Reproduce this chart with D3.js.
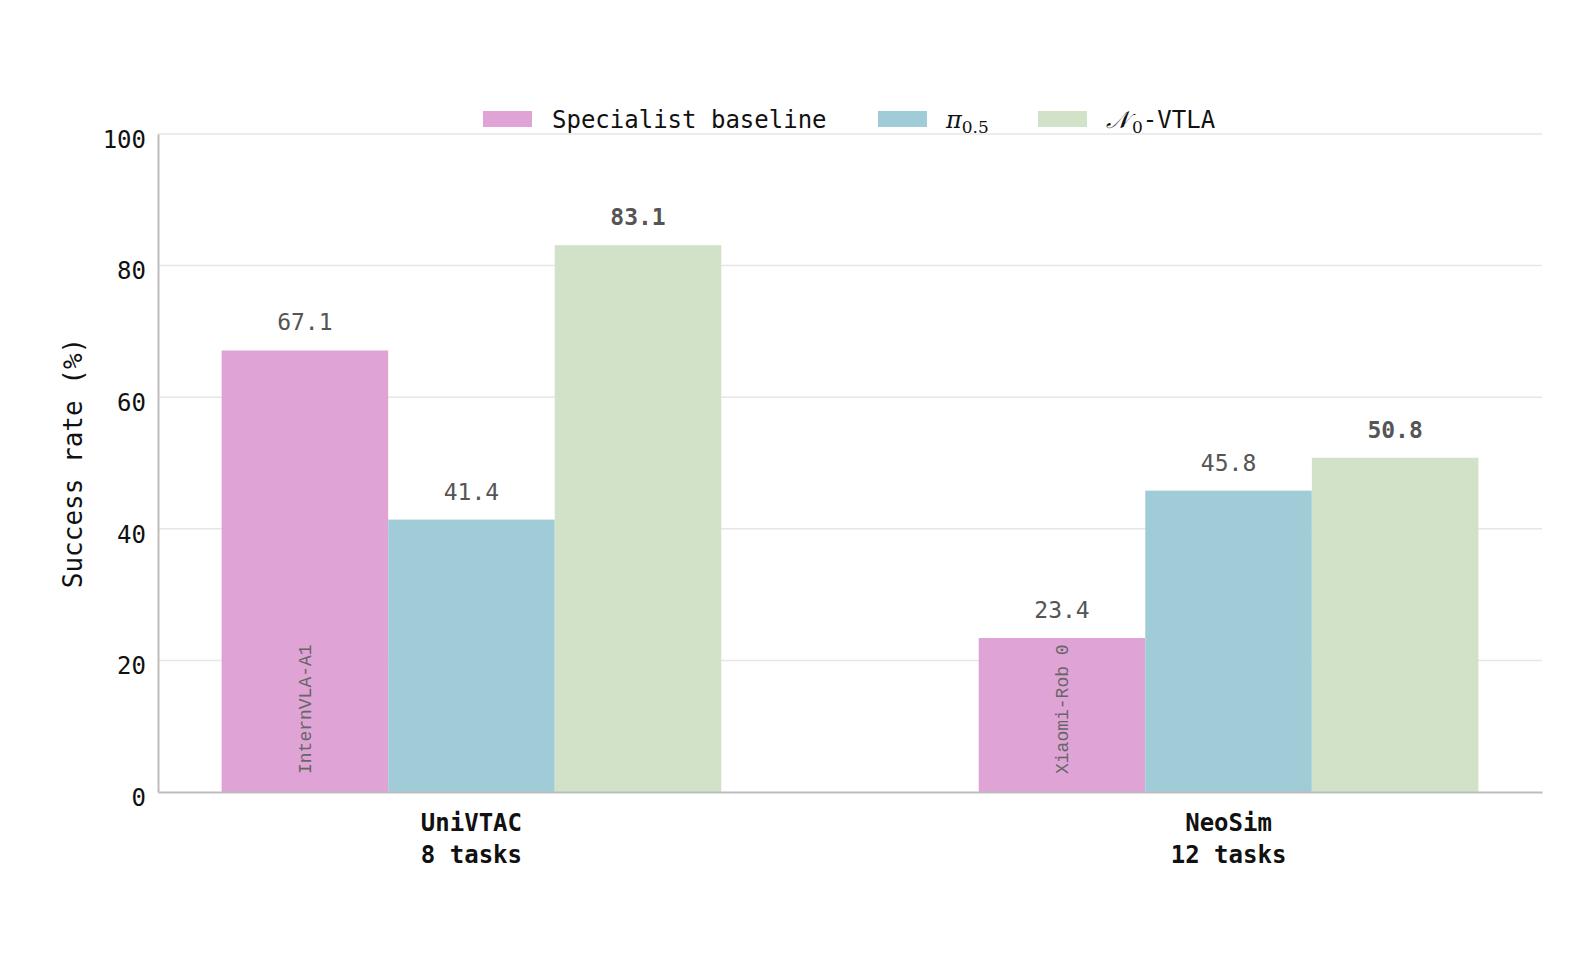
<!DOCTYPE html>
<html>
<head>
<meta charset="utf-8">
<script src="https://cdn.jsdelivr.net/npm/d3@7"></script>
<style>
  body { margin: 0; background: #fff; }
  text { font-family: "DejaVu Sans Mono", "Liberation Mono", monospace; }
</style>
</head>
<body>
<div id="chart"></div>
<script>
// Chart data
const benchmarks = ["UniVTAC", "NeoSim"];
const taskCounts = ["8 tasks", "12 tasks"];
const seriesNames = ["specialist", "pi05", "n0vtla"];
const specialistValues = [67.1, 23.4];
const pi05Values = [41.4, 45.8];
const n0vtlaValues = [83.1, 50.8];
const specialistNames = ["InternVLA-A1", "Xiaomi-Rob 0"];
const yTicks = [0, 20, 40, 60, 80, 100];

const colors = { specialist: "#dfa3d6", pi05: "#a0ccd8", n0vtla: "#d1e2c9" };
const valuesBySeries = { specialist: specialistValues, pi05: pi05Values, n0vtla: n0vtlaValues };

// Dimensions
const W = 1573, H = 956;
const margin = { top: 134, right: 31, bottom: 164, left: 158 };
const width = W - margin.left - margin.right;
const height = H - margin.top - margin.bottom;

const svg = d3.select("#chart")
    .append("svg")
    .attr("width", W)
    .attr("height", H);

const g = svg.append("g")
    .attr("transform", `translate(${margin.left},${margin.top})`);

// Scales
const x0 = d3.scaleBand()
    .domain(benchmarks)
    .range([0, width])
    .paddingInner(0.34)
    .paddingOuter(0.084);

const x1 = d3.scaleBand()
    .domain(seriesNames)
    .range([0, x0.bandwidth()]);

const y = d3.scaleLinear()
    .domain([0, 100])
    .range([height, 0]);

// Gridlines
g.append("g")
    .selectAll("line")
    .data(yTicks.slice(1))
    .enter()
    .append("line")
    .attr("x1", 0)
    .attr("x2", width)
    .attr("y1", d => y(d))
    .attr("y2", d => y(d))
    .attr("stroke", "#e6e6e6")
    .attr("stroke-width", 1.5);

// Y axis
const yAxis = g.append("g")
    .call(d3.axisLeft(y).tickValues(yTicks).tickSize(0).tickPadding(12));
yAxis.select(".domain").attr("stroke", "#bdbdbd").attr("stroke-width", 2);
yAxis.selectAll("text")
    .attr("font-size", 24)
    .attr("fill", "#111")
    .attr("dy", "0.55em")
    .style("font-family", "DejaVu Sans Mono, monospace");

// Bars
const groups = g.selectAll(".group")
    .data(benchmarks)
    .enter()
    .append("g")
    .attr("class", "group")
    .attr("transform", d => `translate(${x0(d)},0)`);

groups.selectAll("rect")
    .data((d, i) => seriesNames.map(s => ({ key: s, value: valuesBySeries[s][i] })))
    .enter()
    .append("rect")
    .attr("x", d => x1(d.key))
    .attr("width", x1.bandwidth())
    .attr("y", d => y(d.value))
    .attr("height", d => height - y(d.value))
    .attr("fill", d => colors[d.key]);

// Value labels (group max in bold)
groups.selectAll(".val")
    .data((d, i) => {
        const vals = seriesNames.map(s => valuesBySeries[s][i]);
        const mx = d3.max(vals);
        return seriesNames.map(s => ({ key: s, value: valuesBySeries[s][i], best: valuesBySeries[s][i] === mx }));
    })
    .enter()
    .append("text")
    .attr("class", "val")
    .attr("x", d => x1(d.key) + x1.bandwidth() / 2)
    .attr("y", d => y(d.value) - 20)
    .attr("text-anchor", "middle")
    .attr("font-size", 23)
    .attr("font-weight", d => d.best ? "bold" : "normal")
    .attr("fill", "#555")
    .text(d => d.value.toFixed(1));

// Specialist names inside bars
groups.append("text")
    .attr("transform", (d, i) => `translate(${x1("specialist") + x1.bandwidth() / 2 + 6},${height - 18}) rotate(-90)`)
    .attr("font-size", 18)
    .attr("fill", "#666")
    .style("font-family", "Liberation Mono, monospace")
    .text((d, i) => specialistNames[i]);

// X axis
const xAxis = g.append("g")
    .attr("transform", `translate(0,${height})`)
    .call(d3.axisBottom(x0).tickSize(0).tickFormat(""));
xAxis.select(".domain").attr("stroke", "#bdbdbd").attr("stroke-width", 2);

const catLabels = g.append("g")
    .selectAll("text")
    .data(benchmarks)
    .enter()
    .append("text")
    .attr("x", d => x0(d) + x0.bandwidth() / 2)
    .attr("y", height + 39)
    .attr("text-anchor", "middle")
    .attr("font-size", 24)
    .attr("font-weight", "bold")
    .attr("fill", "#111");
catLabels.append("tspan").text(d => d);
catLabels.append("tspan")
    .attr("x", d => x0(d) + x0.bandwidth() / 2)
    .attr("dy", 32)
    .text((d, i) => taskCounts[i]);

// Y axis label
svg.append("text")
    .attr("transform", `translate(82,${margin.top + height / 2}) rotate(-90)`)
    .attr("text-anchor", "middle")
    .attr("font-size", 26)
    .attr("fill", "#111")
    .text("Success rate (%)");

// Legend
const legend = svg.append("g").attr("transform", "translate(483,119)");
const legendX = [0, 395, 555];

legend.selectAll("rect")
    .data(seriesNames)
    .enter()
    .append("rect")
    .attr("x", (d, i) => legendX[i])
    .attr("y", -8)
    .attr("width", 49)
    .attr("height", 16)
    .attr("fill", d => colors[d]);

legend.append("text")
    .attr("x", legendX[0] + 69)
    .attr("y", 9)
    .attr("font-size", 24)
    .attr("fill", "#111")
    .text("Specialist baseline");

const piText = legend.append("text")
    .attr("x", legendX[1] + 68)
    .attr("y", 9)
    .attr("font-size", 24)
    .attr("fill", "#111");
piText.append("tspan")
    .style("font-family", "DejaVu Serif, serif")
    .style("font-style", "italic")
    .text("π");
piText.append("tspan")
    .attr("dy", 5)
    .attr("font-size", 17)
    .style("font-family", "DejaVu Serif, serif")
    .text("0.5");

const nText = legend.append("text")
    .attr("x", legendX[2] + 68)
    .attr("y", 9)
    .attr("font-size", 24)
    .attr("fill", "#111");
nText.append("tspan")
    .style("font-family", "DejaVu Serif, serif")
    .style("font-style", "italic")
    .text("𝒩");
nText.append("tspan")
    .attr("dy", 5)
    .attr("dx", 3)
    .attr("font-size", 17)
    .style("font-family", "DejaVu Serif, serif")
    .text("0");
nText.append("tspan")
    .attr("dy", -5)
    .text("-VTLA");
</script>
</body>
</html>
